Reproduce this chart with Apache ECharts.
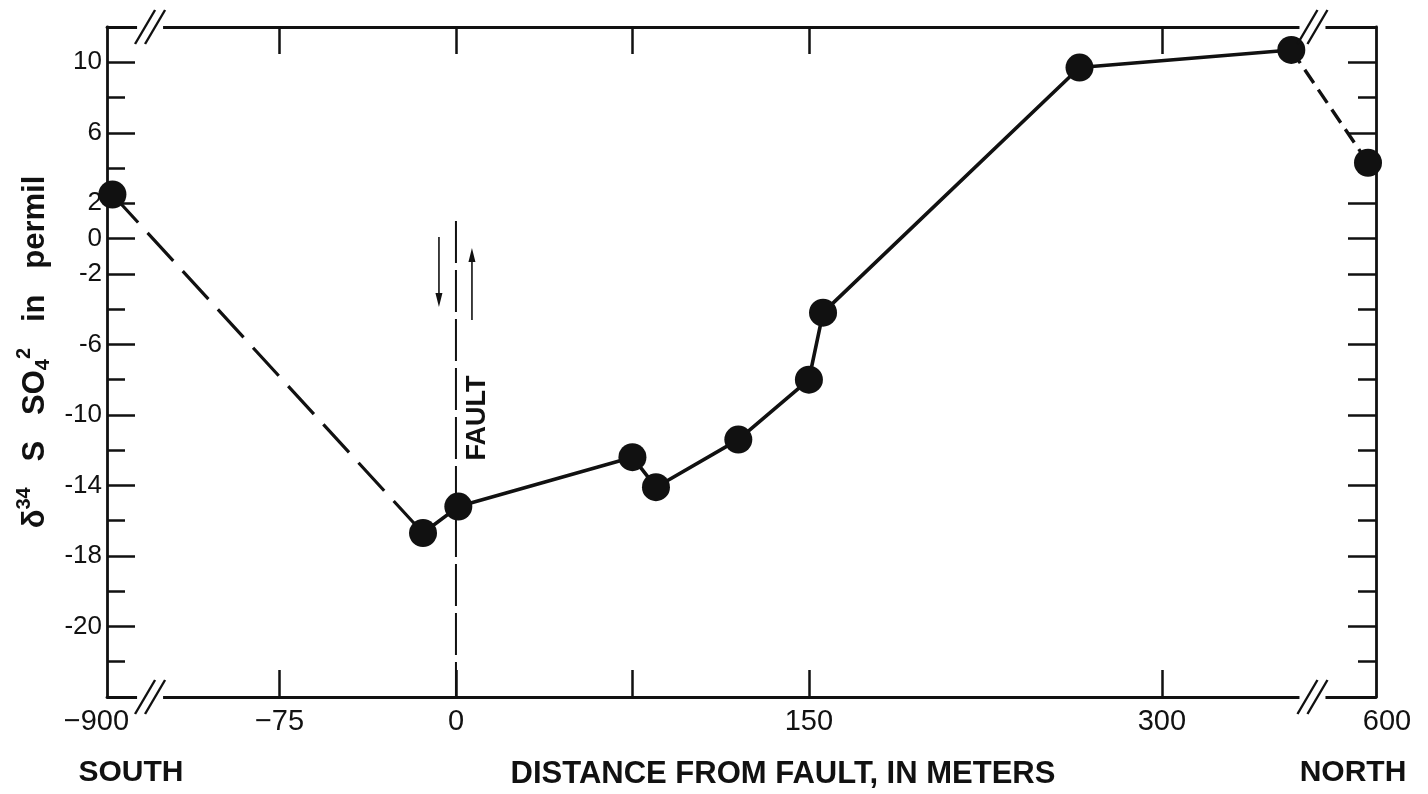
<!DOCTYPE html>
<html>
<head>
<meta charset="utf-8">
<script src="https://cdn.jsdelivr.net/npm/echarts@6/dist/echarts.min.js"></script>
<style>
  html, body { margin: 0; padding: 0; background: #fff; }
  #chart { width: 1428px; height: 794px; }
</style>
</head>
<body>
<div id="chart"></div>
<script>
// Sampling sites along the traverse: distance from the fault in metres
// (negative = south of the fault) and the δ34S of dissolved sulfate (permil).
const distanceM = [-900, -14, 1, 75, 85, 120, 150, 156, 265, 355, 600];
const d34S      = [2.5, -16.7, -15.2, -12.4, -14.1, -11.4, -8.0, -4.2, 9.7, 10.7, 4.3];

// Index ranges of the samples joined by dashed (inferred) and solid lines.
const southDashed = [0, 1];
const solidRun    = [1, 9];
const northDashed = [9, 10];

// Distance axis labels and tick marks (metres).
const xTickMeters = [-900, -75, 0, 150, 300, 600];
const xTickLabels = ['−900', '−75', '0', '150', '300', '600'];
const xTickMarks  = [-75, 0, 75, 150, 300];

// δ34S axis labels (labelled values) and the plain tick step.
const yTickValues = [10, 6, 2, 0, -2, -6, -10, -14, -18, -22];
const yTickLabels = ['10', '6', '2', '0', '-2', '-6', '-10', '-14', '-18', '-20'];

// The distance axis is broken at both ends: the central stretch is drawn to
// scale and the far stations are squeezed in beyond the break marks.
const BREAK_S = -130, BREAK_N = 364;
const SQUEEZE_S = 16 / 770, SQUEEZE_N = 23.6 / 236;
function axisPos(m) {
  if (m < BREAK_S) return BREAK_S + (m - BREAK_S) * SQUEEZE_S;
  if (m > BREAK_N) return BREAK_N + (m - BREAK_N) * SQUEEZE_N;
  return m;
}

const X_MIN = -148.3, X_MAX = 391, Y_MIN = -26, Y_MAX = 12;
const FONT = '"Liberation Sans", Arial, Helvetica, sans-serif';
const INK = '#111';

const pts = distanceM.map((m, i) => [axisPos(m), d34S[i]]);
const seg = r => pts.slice(r[0], r[1] + 1);

function xLabel(v) {
  const i = xTickMeters.findIndex(m => Math.abs(axisPos(m) - v) < 1e-6);
  if (i < 0) return '';
  if (i === 0) return '{s|' + xTickLabels[i] + '}';
  if (i === xTickMeters.length - 1) return '{n|' + xTickLabels[i] + '}';
  return xTickLabels[i];
}
function yLabel(v) {
  const i = yTickValues.findIndex(t => Math.abs(t - v) < 1e-6);
  return i < 0 ? '' : yTickLabels[i];
}

const axisLineStyle = { color: INK, width: 2.8 };
const tickStyle = { color: INK, width: 2.5 };

function xAxisDef(pos, withLabels) {
  return {
    type: 'value', position: pos, min: X_MIN, max: X_MAX,
    axisLine: { show: true, onZero: false, lineStyle: axisLineStyle },
    axisTick: { show: true, inside: true, length: 27, customValues: xTickMarks.map(axisPos), lineStyle: tickStyle },
    axisLabel: withLabels ? {
      show: true, customValues: xTickMeters.map(axisPos), formatter: xLabel,
      margin: 10, color: INK, fontFamily: FONT, fontSize: 29,
      rich: {
        s: { padding: [0, 32, 0, 0], fontSize: 29, fontFamily: FONT, color: INK },
        n: { padding: [0, 0, 0, 38], fontSize: 29, fontFamily: FONT, color: INK }
      }
    } : { show: false },
    splitLine: { show: false }
  };
}
function yAxisDef(pos, long) {
  const base = {
    type: 'value', position: pos, min: Y_MIN, max: Y_MAX,
    splitLine: { show: false }
  };
  if (long) {
    return Object.assign(base, {
      axisLine: { show: false, onZero: false },
      axisTick: { show: true, inside: true, length: 28, customValues: yTickValues, lineStyle: tickStyle },
      axisLabel: pos === 'left' ? {
        show: true, customValues: yTickValues, formatter: yLabel,
        margin: 5, color: INK, fontFamily: FONT, fontSize: 26
      } : { show: false }
    });
  }
  return Object.assign(base, {
    interval: 2,
    axisLine: { show: true, onZero: false, lineStyle: axisLineStyle },
    axisTick: { show: true, inside: true, length: 18, lineStyle: tickStyle },
    axisLabel: { show: false }
  });
}

const chart = echarts.init(document.getElementById('chart'), null, { renderer: 'canvas' });

const yTitle = yAxisDef('left', true);
Object.assign(yTitle, {
  name: '{d|δ}{sup|34}   S   SO{sub|4}{sup|2}   in   permil',
  nameLocation: 'middle', nameRotate: 90, nameGap: 50,
  nameTextStyle: {
    color: INK, fontFamily: FONT, fontWeight: 'bold', fontSize: 31,
    padding: [0, 0, 0, 20],
    rich: {
      d: { fontFamily: FONT, fontWeight: 'bold', fontSize: 31, color: INK },
      sup: { fontFamily: FONT, fontWeight: 'bold', fontSize: 20, color: INK, padding: [0, 0, 22, 0] },
      sub: { fontFamily: FONT, fontWeight: 'bold', fontSize: 20, color: INK, padding: [16, 0, 0, 0] }
    }
  }
});

chart.setOption({
  animation: false,
  backgroundColor: '#fff',
  grid: { left: 107, right: 52, top: 27, bottom: 97, containLabel: false },
  xAxis: [xAxisDef('bottom', true), xAxisDef('top', false)],
  yAxis: [yAxisDef('left', false), yTitle, yAxisDef('right', false), yAxisDef('right', true)],
  series: [
    { // fault trace
      type: 'line', data: [[0, 1], [0, Y_MIN]], symbol: 'none', silent: true,
      lineStyle: { color: INK, width: 2, type: [42, 7] }, z: 1
    },
    {
      type: 'line', data: seg(southDashed), symbol: 'none',
      lineStyle: { color: INK, width: 3.2, type: [38, 14] }, z: 2
    },
    {
      type: 'line', data: seg(solidRun), symbol: 'none',
      lineStyle: { color: INK, width: 3.6 }, z: 2
    },
    {
      type: 'line', data: seg(northDashed), symbol: 'none',
      lineStyle: { color: INK, width: 3.4, type: [16, 8] }, z: 2
    },
    {
      type: 'scatter', data: pts, symbol: 'circle', symbolSize: 28,
      itemStyle: { color: INK, opacity: 1 }, z: 3
    }
  ]
});

// Break marks on the distance axis, captions, fault label and slip arrows.
const yTop = chart.convertToPixel({ yAxisIndex: 0 }, Y_MAX);
const yBot = chart.convertToPixel({ yAxisIndex: 0 }, Y_MIN);
const fx = chart.convertToPixel({ xAxisIndex: 0 }, 0);

function breakMark(xv, y) {
  const x = chart.convertToPixel({ xAxisIndex: 0 }, xv);
  const ln = (x1, y1, x2, y2) => ({
    type: 'line', shape: { x1, y1, x2, y2 }, z: 101,
    style: { stroke: INK, lineWidth: 2.4 }
  });
  return [
    { type: 'rect', shape: { x: x - 13, y: y - 4, width: 26, height: 8 }, style: { fill: '#fff' }, z: 100 },
    ln(x - 15, y + 17, x + 5, y - 17),
    ln(x - 5, y + 17, x + 15, y - 17)
  ];
}

const txt = (text, x, y, size, extra) => Object.assign({
  type: 'text', x, y, z: 110,
  style: {
    text, fill: INK, font: 'bold ' + size + 'px ' + FONT,
    align: 'center', verticalAlign: 'middle'
  }
}, extra || {});

function arrow(x, yFrom, yTo) {
  const dir = yTo > yFrom ? 1 : -1;
  return [
    { type: 'line', z: 105, shape: { x1: x, y1: yFrom, x2: x, y2: yTo - dir * 12 },
      style: { stroke: INK, lineWidth: 1.6 } },
    { type: 'polygon', z: 105, shape: { points: [[x - 3.5, yTo - dir * 14], [x + 3.5, yTo - dir * 14], [x, yTo]] },
      style: { fill: INK } }
  ];
}

chart.setOption({
  graphic: [].concat(
    breakMark(BREAK_S, yTop), breakMark(BREAK_S, yBot),
    breakMark(BREAK_N, yTop), breakMark(BREAK_N, yBot),
    [
      txt('SOUTH', 131, 773, 30),
      txt('NORTH', 1353, 773, 30),
      txt('DISTANCE FROM FAULT, IN METERS', 783, 774, 31),
      txt('FAULT', fx + 22, 418, 27, { rotation: Math.PI / 2 })
    ],
    arrow(fx - 17, 237, 307),
    arrow(fx + 16, 320, 248)
  )
});
</script>
</body>
</html>
